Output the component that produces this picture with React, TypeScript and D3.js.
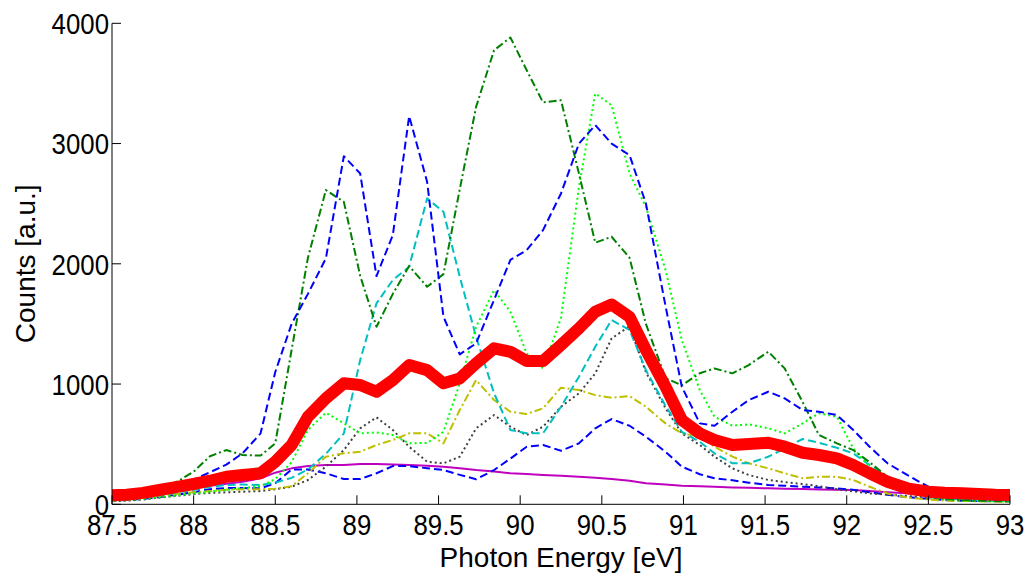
import React from "react";
import * as d3 from "d3";

// Photon energy grid [eV]
const energies = [
  87.48, 87.59, 87.69, 87.79, 87.9, 88.0, 88.1, 88.2, 88.3, 88.41,
  88.5, 88.6, 88.7, 88.81, 88.92, 89.02, 89.12, 89.22, 89.32, 89.43,
  89.53, 89.63, 89.73, 89.84, 89.94, 90.04, 90.14, 90.25, 90.36, 90.46,
  90.56, 90.67, 90.77, 90.89, 90.99, 91.1, 91.19, 91.3, 91.4, 91.52,
  91.62, 91.73, 91.83, 91.94, 92.04, 92.14, 92.25, 92.37, 92.5, 92.6,
  92.71, 92.81, 92.91, 93.02,
];

const blueA = [
  40, 50, 70, 110, 160, 205, 266, 330, 424, 590,
  1100, 1500, 1750, 2045, 2895, 2751, 1898, 2239, 3228, 2682,
  1560, 1247, 1338, 1700, 2032, 2114, 2280, 2585, 3000, 3153,
  3000, 2903, 2502, 1650, 978, 673, 653, 770, 867, 936,
  881, 784, 770, 742, 618, 479, 341, 244, 146, 90,
  60, 45, 38, 32,
];

const blueB = [
  30, 35, 45, 60, 80, 100, 125, 135, 135, 133,
  175, 290, 290, 258, 210, 210, 258, 318, 318, 300,
  285, 245, 208, 285, 380, 479, 493, 445, 507, 632,
  709, 653, 562, 437, 313, 250, 216, 200, 180, 160,
  155, 146, 140, 133, 120, 100, 80, 60, 45, 35,
  30, 28, 25, 22,
];

const darkGreen = [
  40, 50, 70, 120, 190, 271, 400, 451, 410, 405,
  507, 1283, 2050, 2613, 2515, 1900, 1476, 1750, 1981, 1809,
  1914, 2620, 3305, 3776, 3882, 3610, 3342, 3360, 2750, 2175,
  2225, 2050, 1500, 1050, 990, 1090, 1130, 1089, 1158, 1269,
  1130, 850, 576, 507, 451, 350, 229, 130, 70, 45,
  35, 30, 28, 25,
];

const cyan = [
  35, 40, 55, 75, 100, 120, 145, 160, 165, 160,
  180, 220, 290, 420, 590, 1200, 1671, 1865, 1975, 2544,
  2432, 1892, 1393, 923, 618, 590, 590, 811, 1061, 1310,
  1532, 1450, 1116, 820, 603, 520, 424, 341, 341, 396,
  465, 543, 512, 470, 424, 327, 229, 140, 80, 50,
  40, 35, 30, 28,
];

const lime = [
  30, 35, 45, 60, 75, 90, 105, 120, 135, 150,
  210, 350, 618, 761, 673, 590, 598, 576, 507, 510,
  603, 1006, 1476, 1781, 1601, 1255, 1130, 1550, 2640, 3416,
  3319, 2751, 2474, 1950, 1366, 950, 728, 653, 665, 632,
  590, 673, 756, 728, 465, 313, 200, 110, 60, 40,
  30, 28, 25, 22,
];

const olive = [
  30, 40, 55, 70, 85, 100, 110, 120, 125, 125,
  130, 150, 258, 396, 424, 437, 493, 535, 590, 590,
  507, 784, 1033, 867, 770, 751, 798, 970, 950, 908,
  886, 900, 811, 673, 590, 562, 479, 396, 341, 299,
  258, 216, 229, 229, 202, 146, 90, 55, 40, 30,
  28, 25, 22, 20,
];

const gray = [
  25, 30, 40, 55, 70, 85, 95, 100, 105, 110,
  125, 146, 202, 313, 451, 632, 723, 618, 479, 354,
  341, 396, 632, 742, 645, 576, 645, 811, 923, 1089,
  1380, 1480, 1100, 800, 590, 493, 396, 299, 244, 202,
  185, 169, 150, 125, 108, 91, 80, 69, 58, 50,
  45, 40, 35, 30,
];

const magenta = [
  50, 60, 75, 95, 115, 135, 155, 170, 188, 216,
  263, 299, 318, 327, 327, 335, 335, 332, 327, 320,
  313, 300, 285, 272, 258, 252, 244, 237, 229, 220,
  210, 195, 175, 165, 155, 150, 145, 140, 137, 133,
  130, 127, 124, 122, 119, 110, 100, 91, 80, 70,
  60, 55, 50, 45,
];

const average = [
  75, 80, 95, 119, 145, 169, 196, 229, 244, 258,
  354, 493, 728, 881, 1006, 992, 936, 1033, 1158, 1116,
  1006, 1047, 1172, 1297, 1268, 1191, 1191, 1324, 1463, 1601,
  1662, 1559, 1283, 978, 701, 590, 535, 493, 501, 512,
  479, 429, 410, 382, 327, 258, 188, 133, 105, 96,
  91, 86, 80, 77,
];

const xTicks = [87.5, 88, 88.5, 89, 89.5, 90, 90.5, 91, 91.5, 92, 92.5, 93];
const yTicks = [0, 1000, 2000, 3000, 4000];

const series = [
  { values: magenta, color: "#BF00BF", dash: "none", width: 2 },
  { values: blueB, color: "#0000FF", dash: "8,4", width: 2 },
  { values: gray, color: "#404040", dash: "2,3", width: 2 },
  { values: olive, color: "#BFBF00", dash: "8,3,2,3", width: 2 },
  { values: cyan, color: "#00BFBF", dash: "8,4", width: 2 },
  { values: lime, color: "#00FF00", dash: "2,3", width: 2 },
  { values: darkGreen, color: "#008000", dash: "8,3,2,3", width: 2 },
  { values: blueA, color: "#0000FF", dash: "8,4", width: 2 },
];

const W = 1034;
const H = 582;
const left = 112;
const right = 1010;
const top = 23.3;
const bottom = 504.3;

const fontFamily = "'Liberation Sans', Arial, Helvetica, sans-serif";

export default function App() {
  const x = d3.scaleLinear().domain([87.5, 93]).range([left, right]);
  const y = d3.scaleLinear().domain([0, 4000]).range([bottom, top]);

  const lineGen = (vals: number[]) =>
    d3
      .line<number>()
      .x((_, i) => x(energies[i]))
      .y((d) => y(d))(vals) || "";

  return (
    <svg
      width={W}
      height={H}
      style={{ position: "absolute", left: 0, top: 0, display: "block", background: "#fff" }}
    >
      <defs>
        <clipPath id="plotClip">
          <rect x={left} y={0} width={right - left} height={bottom + 10} />
        </clipPath>
      </defs>
      <rect x={0} y={0} width={W} height={H} fill="#fff" />

      <g clipPath="url(#plotClip)">
        {series.map((s, k) => (
          <path
            key={k}
            d={lineGen(s.values)}
            fill="none"
            stroke={s.color}
            strokeWidth={s.width}
            strokeDasharray={s.dash}
            strokeLinejoin="round"
          />
        ))}
        <path
          d={lineGen(average)}
          fill="none"
          stroke="#FF0000"
          strokeWidth={12}
          strokeLinejoin="round"
        />
      </g>

      {/* axes */}
      <line x1={left} x2={left} y1={top} y2={bottom} stroke="#000" strokeWidth={1} />
      <line x1={left} x2={right} y1={bottom} y2={bottom} stroke="#000" strokeWidth={1} />

      {yTicks.map((t) => (
        <g key={"y" + t}>
          <line x1={left} x2={left + 9} y1={y(t)} y2={y(t)} stroke="#000" strokeWidth={1} />
          <g transform={`translate(${left - 3},${y(t)}) scale(0.86,1)`}>
            <text
              x={0}
              y={0}
              dy="0.36em"
              textAnchor="end"
              fontFamily={fontFamily}
              fontSize={30}
              fill="#000"
            >
              {t}
            </text>
          </g>
        </g>
      ))}

      {xTicks.map((t) => (
        <g key={"x" + t}>
          <line x1={x(t)} x2={x(t)} y1={bottom} y2={bottom - 9} stroke="#000" strokeWidth={1} />
          <g transform={`translate(${x(t)},${535}) scale(0.86,1)`}>
            <text
              x={0}
              y={0}
              textAnchor="middle"
              fontFamily={fontFamily}
              fontSize={30}
              fill="#000"
            >
              {t}
            </text>
          </g>
        </g>
      ))}

      <text
        x={(left + right) / 2}
        y={567}
        textAnchor="middle"
        fontFamily={fontFamily}
        fontSize={28}
        fill="#000"
      >
        Photon Energy [eV]
      </text>
      <text
        transform={`translate(35,${(top + bottom) / 2}) rotate(-90)`}
        textAnchor="middle"
        fontFamily={fontFamily}
        fontSize={28}
        fill="#000"
      >
        Counts [a.u.]
      </text>
    </svg>
  );
}
